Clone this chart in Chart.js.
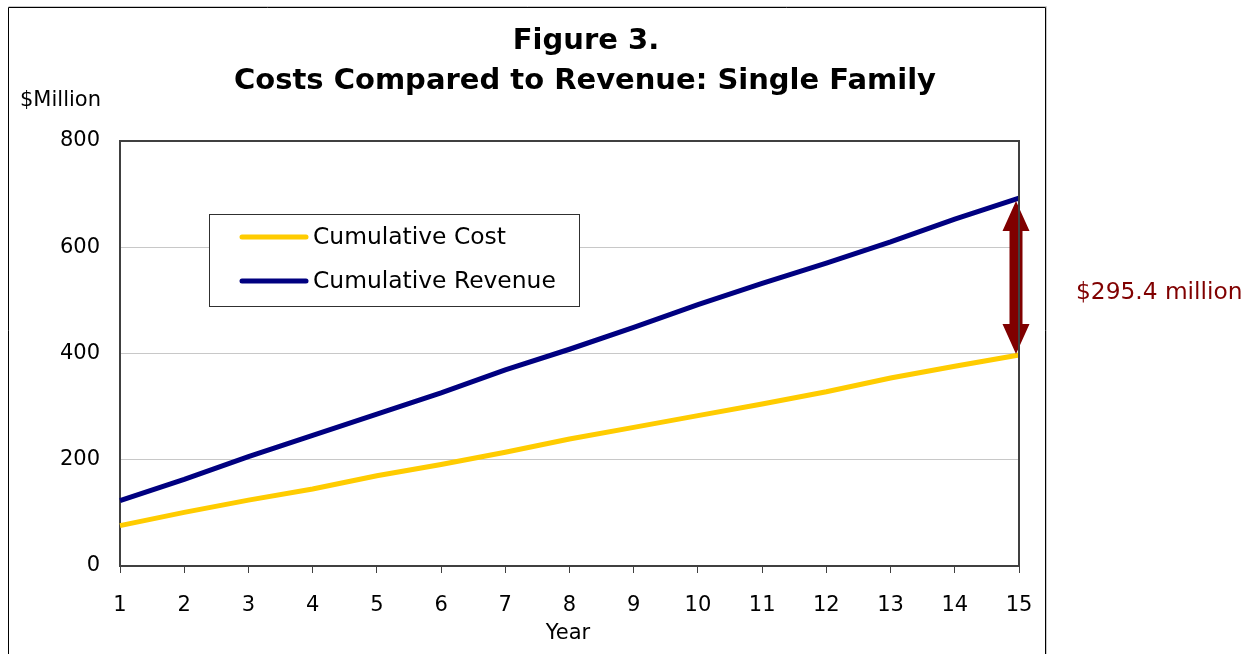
<!DOCTYPE html>
<html>
<head>
<meta charset="utf-8">
<script src="https://cdn.jsdelivr.net/npm/chart.js@4.4.1/dist/chart.umd.min.js"></script>
<style>
html,body{margin:0;padding:0;background:#fff;}
#wrap{width:1250px;height:654px;position:relative;}
</style>
</head>
<body>
<div id="wrap"><canvas id="c" width="1250" height="654"></canvas></div>
<script>
const years = ['1','2','3','4','5','6','7','8','9','10','11','12','13','14','15'];
const cumulativeCost = [76, 101, 124, 145, 170, 191, 214, 239, 261, 283, 305, 328, 354, 376, 397.2];
const cumulativeRevenue = [123, 163, 206, 246, 286, 326, 369, 408, 449, 492, 532, 570, 610, 653, 692.6];
const yTicks = [0, 200, 400, 600, 800];
const seriesLabels = ['Cumulative Cost', 'Cumulative Revenue'];
const titleLines = ['Figure 3.', 'Costs Compared to Revenue: Single Family'];
const gapLabel = '$295.4 million';

const FONT = '"DejaVu Sans", Verdana, sans-serif';

const decor = {
  id: 'decor',
  beforeDraw(chart) {
    const ctx = chart.ctx;
    ctx.save();
    ctx.fillStyle = '#fff';
    ctx.fillRect(0, 0, chart.width, chart.height);
    ctx.strokeStyle = '#c8c8c8';
    ctx.lineWidth = 1;
    ctx.beginPath();
    ctx.moveTo(8.5, 6.5); ctx.lineTo(1046.5, 6.5); ctx.lineTo(1046.5, 654);
    ctx.stroke();
    ctx.strokeStyle = '#000';
    ctx.beginPath();
    ctx.moveTo(8.5, 654); ctx.lineTo(8.5, 7.5); ctx.lineTo(1045.5, 7.5); ctx.lineTo(1045.5, 654);
    ctx.stroke();
    ctx.restore();
  },
  afterDraw(chart) {
    const ctx = chart.ctx;
    const a = chart.chartArea;
    ctx.save();
    ctx.strokeStyle = '#404040';
    ctx.lineWidth = 2;
    ctx.beginPath();
    ctx.moveTo(a.left, a.top); ctx.lineTo(a.right, a.top); ctx.lineTo(a.right, a.bottom);
    ctx.stroke();
    ctx.fillStyle = '#000';
    ctx.textAlign = 'center';
    ctx.textBaseline = 'middle';
    ctx.font = 'bold 29px ' + FONT;
    ctx.fillText(titleLines[0], 586, 41);
    ctx.fillText(titleLines[1], 585, 81);
    ctx.font = '21px ' + FONT;
    ctx.textAlign = 'left';
    ctx.fillText('$Million', 20, 101);
    ctx.textAlign = 'center';
    ctx.fillText('Year', 568, 634);
    ctx.fillStyle = '#fff';
    ctx.fillRect(209.5, 214.5, 370, 92);
    ctx.strokeStyle = '#303030';
    ctx.lineWidth = 1;
    ctx.strokeRect(209.5, 214.5, 370, 92);
    const ds = chart.data.datasets;
    const rows = [237, 281];
    ctx.lineCap = 'round';
    ds.forEach((d, i) => {
      ctx.strokeStyle = d.borderColor;
      ctx.lineWidth = 5;
      ctx.beginPath();
      ctx.moveTo(242, rows[i]); ctx.lineTo(306, rows[i]);
      ctx.stroke();
      ctx.fillStyle = '#000';
      ctx.font = '23.4px ' + FONT;
      ctx.textAlign = 'left';
      ctx.textBaseline = 'middle';
      ctx.fillText(d.label, 313, rows[i] + 1);
    });
    ctx.fillStyle = '#800000';
    ctx.font = '23.3px ' + FONT;
    ctx.textAlign = 'left';
    ctx.fillText(gapLabel, 1076, 293);
    ctx.restore();
  },
  afterDatasetsDraw(chart) {
    const ctx = chart.ctx;
    const xs = chart.scales.x, ys = chart.scales.y;
    const last = years.length - 1;
    const x = xs.getPixelForValue(last) - 3;
    const yTop = ys.getPixelForValue(cumulativeRevenue[last]) + 3;
    const yBot = ys.getPixelForValue(cumulativeCost[last]) - 1;
    const hw = 13.5, hh = 30, sw = 6.5;
    ctx.save();
    ctx.fillStyle = '#800000';
    ctx.beginPath();
    ctx.moveTo(x, yTop);
    ctx.lineTo(x + hw, yTop + hh);
    ctx.lineTo(x + sw, yTop + hh);
    ctx.lineTo(x + sw, yBot - hh);
    ctx.lineTo(x + hw, yBot - hh);
    ctx.lineTo(x, yBot);
    ctx.lineTo(x - hw, yBot - hh);
    ctx.lineTo(x - sw, yBot - hh);
    ctx.lineTo(x - sw, yTop + hh);
    ctx.lineTo(x - hw, yTop + hh);
    ctx.closePath();
    ctx.fill();
    ctx.restore();
  }
};

new Chart(document.getElementById('c'), {
  type: 'line',
  data: {
    labels: years,
    datasets: [
      { label: seriesLabels[0], data: cumulativeCost, borderColor: '#FFCC00', borderWidth: 5, pointRadius: 0, tension: 0, fill: false, borderCapStyle: 'butt' },
      { label: seriesLabels[1], data: cumulativeRevenue, borderColor: '#000080', borderWidth: 5, pointRadius: 0, tension: 0, fill: false, borderCapStyle: 'butt' }
    ]
  },
  options: {
    responsive: false,
    animation: false,
    devicePixelRatio: 1,
    layout: { padding: { left: 0, right: 231, top: 141, bottom: 0 } },
    plugins: { legend: { display: false }, title: { display: false }, tooltip: { enabled: false } },
    scales: {
      x: {
        type: 'category',
        offset: false,
        grid: { drawOnChartArea: false, drawTicks: true, tickLength: 7, color: '#404040', lineWidth: 1 },
        border: { display: true, color: '#404040', width: 2 },
        ticks: { color: '#000', font: { family: FONT, size: 21 }, padding: 20, maxRotation: 0, autoSkip: false },
        afterFit(s) { s.height = 88; }
      },
      y: {
        min: 0, max: 800,
        afterBuildTicks(s) { s.ticks = yTicks.map(v => ({ value: v })); },
        grid: { drawTicks: false, color: (c) => (c.tick && (c.tick.value === 0 || c.tick.value === 800)) ? 'rgba(0,0,0,0)' : '#c8c8c8', lineWidth: 1 },
        border: { display: true, color: '#404040', width: 2 },
        ticks: { color: '#000', font: { family: FONT, size: 21 }, padding: 20 },
        afterFit(s) { s.width = 120; }
      }
    }
  },
  plugins: [decor]
});
</script>
</body>
</html>
